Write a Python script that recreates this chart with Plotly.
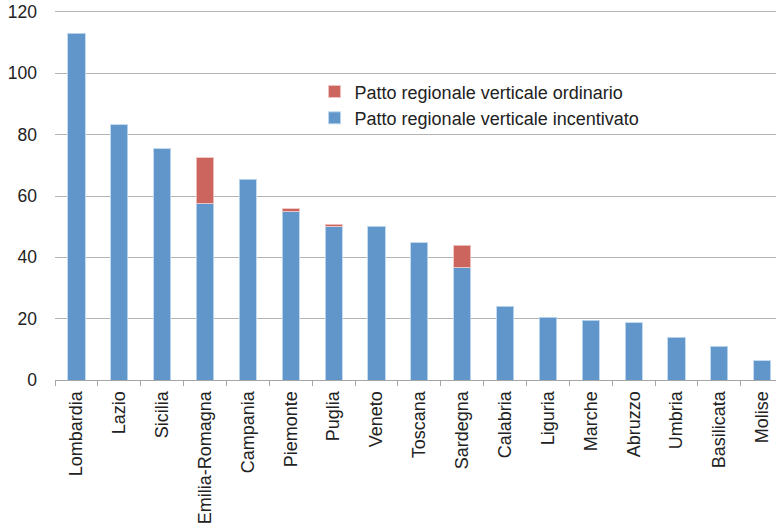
import plotly.graph_objects as go

regions = ["Lombardia", "Lazio", "Sicilia", "Emilia-Romagna", "Campania", "Piemonte",
           "Puglia", "Veneto", "Toscana", "Sardegna", "Calabria", "Liguria", "Marche",
           "Abruzzo", "Umbria", "Basilicata", "Molise"]
incentivato = [113.0, 83.2, 75.4, 57.6, 65.4, 55.1, 50.1, 50.2, 44.8, 36.7, 24.1,
               20.5, 19.5, 18.6, 14.0, 11.0, 6.2]
ordinario = [None, None, None, 14.8, None, 0.7, 0.7, None, None, 7.3, None, None, None,
             None, None, None, None]
y_ticks = [0, 20, 40, 60, 80, 100, 120]

BLUE = "#6096CA"
RED = "#CC655D"
FONT = "Liberation Sans"

fig = go.Figure()
fig.add_trace(go.Bar(x=regions, y=incentivato, name="Patto regionale verticale incentivato",
                     marker=dict(color=BLUE, line=dict(color="rgba(190,215,240,0.9)", width=1)),
                     width=0.4))
fig.add_trace(go.Bar(x=regions, y=ordinario, name="Patto regionale verticale ordinario",
                     marker=dict(color=RED, line=dict(color="rgba(240,195,195,0.9)", width=1)),
                     width=0.4))

fig.update_layout(
    barmode="stack",
    width=776, height=523,
    margin=dict(l=55, r=0, t=10, b=143, autoexpand=False),
    plot_bgcolor="white", paper_bgcolor="white",
    font=dict(family=FONT, color="#222222", size=17),
    showlegend=True,
    legend=dict(x=0.36, y=0.829, xanchor="left", yanchor="top", traceorder="reversed",
                font=dict(size=18, color="#222222"), bgcolor="rgba(0,0,0,0)",
                itemwidth=30, tracegroupgap=0),
    bargap=0.6,
)
fig.update_xaxes(
    range=[-0.5, 16.32], tickangle=-90, showgrid=False,
    showline=True, linecolor="#A6A6A6", linewidth=1,
    ticks="outside", tickson="boundaries", ticklen=5, tickcolor="#A6A6A6",
    tickfont=dict(size=18, color="#222222"), ticklabelstandoff=3,
)
fig.update_yaxes(
    range=[0, 120.65], tickvals=y_ticks, showgrid=True, gridcolor="#B3B3B3", gridwidth=1,
    showline=False, zeroline=False, ticks="", tickfont=dict(size=17.5, color="#222222"),
    ticklabelstandoff=17,
)

fig.write_html("out.html", config={"displayModeBar": False},
               post_script="document.body.style.margin='0';")
